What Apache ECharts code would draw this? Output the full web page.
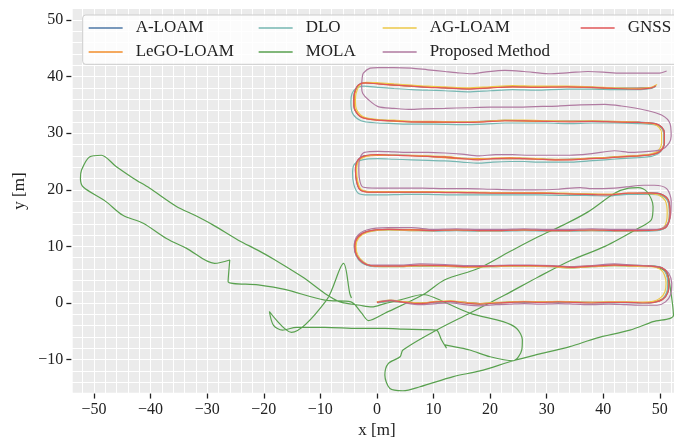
<!DOCTYPE html>
<html><head><meta charset="utf-8">
<script src="https://cdn.jsdelivr.net/npm/echarts@6/dist/echarts.min.js"></script>
<style>html,body{margin:0;padding:0;background:#fff}#c{width:674px;height:441px}</style>
</head><body><div id="c"></div>
<script>
// ---------------- data (x [m], y [m]) ----------------
const seriesNames = ['A-LOAM','LeGO-LOAM','DLO','MOLA','AG-LOAM','Proposed Method','GNSS'];
const xTickValues = [-50,-40,-30,-20,-10,0,10,20,30,40,50];
const yTickValues = [-10,0,10,20,30,40,50];

const gnss = [[0,0.1],[2.3,0.4],[5,0.1],[7.6,-0.1],[10.5,0.2],[13,0.3],[15.5,0.0],[18.2,-0.2],[21,0.0],[23.5,0.1],[26,0.2],[28.8,0.1],[32,0.2],[35,0.1],[38,0.0],[41,0.1],[44,0.1],[47,0.0],[49,0.1],
[50.5,0.6],[51.4,1.8],[51.6,3.5],[51.3,5.2],[50.4,6.2],[48.5,6.5],
[45,6.6],[42,6.7],[38,6.5],[34.4,6.3],[31,6.5],[27,6.6],[23.5,6.6],[20,6.5],[16.4,6.4],[12,6.6],[7.6,6.7],[4,6.5],[1,6.5],[-1.2,6.6],
[-2.6,7.2],[-3.6,8.4],[-3.9,10.0],[-3.4,11.6],[-1.8,12.6],[2,13.0],
[6.1,12.9],[10,12.8],[14,12.9],[18,12.8],[22,12.8],[26,12.9],[30,12.8],[34,12.8],[38,12.9],[42,12.8],[46,12.8],[49.5,12.9],
[51.2,13.5],[51.8,15.8],[51.5,18.2],[50.3,19.2],[48.5,19.4],
[44.4,19.4],[40.9,19.1],[37,19.2],[33,19.3],[29,19.4],[25,19.4],[21,19.4],[17,19.5],[13,19.5],[9,19.6],[5,19.6],[1,19.6],[-1.5,19.6],
[-3.0,20.0],[-3.6,21.5],[-3.8,23.5],[-3.4,25.2],[-2.1,26.0],
[0.2,26.2],[3,26.1],[6.1,26.0],[9,25.9],[12,25.8],[15,25.5],[17.9,25.3],[20.5,25.5],[23.5,25.6],[26,25.5],[28.5,25.4],[31.5,25.3],[34.4,25.3],[37.5,25.5],[40.3,25.6],[43,25.8],[46.2,26.0],[48.5,26.2],
[50.1,26.8],[50.8,28.3],[50.8,30.0],[50.3,31.1],[49.1,31.7],[46.2,31.9],
[42,32.0],[38,32.1],[34,32.0],[30,32.1],[26,32.2],[22.6,32.2],[19,32.0],[15,31.9],[10,32.0],[6.1,32.0],[3,32.2],[0.2,32.3],[-2.7,32.8],
[-3.9,34.1],[-4.1,35.5],[-4.0,37.0],[-3.3,38.5],[-2.1,38.9],
[0.2,38.7],[3,38.5],[6.1,38.3],[9,38.1],[12,38.0],[16,37.8],[20,38.0],[24,38.2],[28,38.1],[33.6,38.2],[38,38.1],[42,37.9],[46.6,37.8],[48.5,38.0],[49.3,38.4]];

const aLoam = [[0,0.15],[2.3,0.4],[7.6,0.0],[13,0.3],[18.2,-0.1],[23.5,0.15],[28.8,0.15],[35,0.15],[41,0.1],[47,0.05],[49,0.15],
[50.5,0.7],[51.4,1.9],[51.6,3.5],[51.3,5.2],[50.4,6.2],[48.5,6.55],
[42,6.7],[34.4,6.35],[27,6.6],[20,6.5],[12,6.6],[4,6.5],[-1.2,6.6],
[-2.6,7.25],[-3.6,8.4],[-3.9,10.0],[-3.4,11.6],[-1.8,12.6],[2,13.0],
[10,12.85],[18,12.85],[26,12.9],[34,12.85],[42,12.85],[49.5,12.95],
[51.2,13.55],[51.8,15.8],[51.5,18.2],[50.3,19.2],[48.5,19.45],
[40.9,19.15],[33,19.35],[25,19.45],[17,19.5],[9,19.6],[1,19.6],[-1.5,19.65],
[-3.0,20.05],[-3.6,21.5],[-3.8,23.5],[-3.4,25.2],[-2.1,26.05],
[3,26.15],[9,25.95],[15,25.55],[20.5,25.5],[26,25.55],[31.5,25.35],[37.5,25.55],[43,25.85],[48.5,26.25],
[50.1,26.85],[50.8,28.3],[50.8,30.0],[50.3,31.1],[49.1,31.75],[46.2,31.95],
[38,32.15],[30,32.15],[22.6,32.25],[15,31.95],[6.1,32.05],[0.2,32.35],[-2.7,32.85],
[-3.9,34.1],[-4.1,35.5],[-4.0,37.0],[-3.3,38.5],[-2.1,38.95],
[3,38.55],[9,38.15],[16,37.85],[24,38.25],[33.6,38.25],[42,37.95],[48.5,38.05],[49.3,38.45]];

const legoLoam = [[0,0.1],[2.3,0.3],[7.6,0.0],[13,0.3],[18.2,-0.1],[23.5,0.1],[28.8,0.2],[35,0.1],[41,0.1],[47,0.1],[49,0.2],
[50.4,0.7],[51.3,1.9],[51.5,3.5],[51.2,5.1],[50.3,6.1],[48.5,6.5],
[42,6.7],[34.4,6.4],[27,6.6],[20,6.5],[12,6.6],[4,6.5],[-1.1,6.6],
[-2.5,7.2],[-3.5,8.4],[-3.8,10.0],[-3.3,11.6],[-1.7,12.6],[2,13.0],
[10,12.9],[18,12.8],[26,12.9],[34,12.8],[42,12.8],[49.4,12.9],
[51.1,13.5],[51.7,15.8],[51.4,18.1],[50.2,19.1],[48.5,19.4],
[40.9,19.2],[33,19.3],[25,19.4],[17,19.5],[9,19.6],[1,19.6],[-1.4,19.6],
[-2.9,20.0],[-3.5,21.5],[-3.7,23.5],[-3.3,25.2],[-2.0,26.0],
[3,26.1],[9,25.9],[15,25.5],[20.5,25.5],[26,25.5],[31.5,25.3],[37.5,25.5],[43,25.8],[48.4,26.2],
[50.0,26.8],[50.7,28.3],[50.7,30.0],[50.2,31.1],[49.0,31.7],[46.2,31.9],
[38,32.1],[30,32.1],[22.6,32.2],[15,31.9],[6.1,32.0],[0.2,32.3],[-2.6,32.8],
[-3.8,34.1],[-4.0,35.5],[-3.9,37.0],[-3.2,38.5],[-2.0,38.9],
[3,38.5],[9,38.2],[16,37.9],[24,38.2],[33.6,38.2],[42,37.9],[48.5,38.0],[49.3,38.4]];

const dlo = [[0.1,0.0],[2.3,0.3],[5,0.1],[7.6,-0.1],[10.5,0.1],[13,0.2],[15.5,0.0],[18.2,-0.2],[21,0.0],[23.5,0.1],[26,0.1],[28.8,0.1],[32,0.1],[35,0.1],[38,0.0],[41,0.0],[44,0.1],[47,0.0],[49,0.1],
[50.4,0.6],[51.2,1.8],[51.4,3.5],[51.1,5.2],[50.3,6.1],[48.5,6.5],
[45,6.5],[42,6.6],[38,6.4],[34.4,6.2],[31,6.4],[27,6.5],[23.5,6.5],[20,6.4],[16.4,6.3],[12,6.5],[7.6,6.6],[4,6.4],[1,6.4],[-1.2,6.5],
[-2.7,7.1],[-3.7,8.4],[-4.0,10.0],[-3.5,11.6],[-1.9,12.5],[2,12.9],
[6.1,12.8],[10,12.7],[14,12.8],[18,12.7],[22,12.7],[26,12.8],[30,12.7],[34,12.7],[38,12.8],[42,12.7],[46,12.7],[49.5,12.8],
[51.1,13.4],[51.7,15.8],[51.4,18.0],[50.2,19.0],[48.5,19.2],
[44.4,19.2],[40.9,18.9],[37,19.0],[33,19.0],[29,19.1],[25,19.1],[21,19.1],[17,19.1],[13,19.1],[9,19.2],[5,19.2],[1,19.1],[-1.5,19.1],
[-3.3,19.4],[-4.1,21.0],[-4.3,23.0],[-4.0,24.5],[-2.6,25.3],
[0.2,25.5],[3,25.4],[6.1,25.3],[9,25.2],[12,25.1],[15,24.9],[17.9,24.7],[20.5,24.9],[23.5,25.0],[26,25.0],[28.5,24.9],[31.5,24.9],[34.4,24.9],[37.5,25.1],[40.3,25.3],[43,25.5],[46.2,25.7],[48.5,25.9],
[50.0,26.6],[50.7,28.2],[50.7,30.0],[50.2,31.0],[49.0,31.5],[46.2,31.7],
[42,31.8],[38,31.8],[34,31.7],[30,31.8],[26,31.8],[22.6,31.8],[19,31.6],[15,31.5],[10,31.6],[6.1,31.6],[3,31.7],[0.2,31.8],[-2.8,32.2],
[-4.3,33.5],[-4.6,35.5],[-4.4,37.0],[-3.6,38.0],[-2.3,38.3],
[0.2,38.1],[3,37.9],[6.1,37.7],[9,37.6],[12,37.5],[16,37.3],[20,37.5],[24,37.7],[28,37.6],[33.6,37.8],[38,37.8],[42,37.7],[46.6,37.7],[48.5,37.9],[49.3,38.3]];

const mola = [[-4.5,0.9],[-4.8,1.7],[-5.9,7.0],[-8.9,0.5],[-15.1,-5.2],[-19.0,-1.5],[-18.3,-3.9],[-16.7,-4.8],[-14.2,-4.3],[-9.2,-4.3],[-3.3,-4.5],[1.4,-4.5],[4.6,-4.6],[8,-4.7],[10.5,-4.8],
[11.4,-6.5],[12.3,-8.0],[12.0,-7.4],[14,-7.8],[16.4,-8.3],[20.0,-9.5],[24.1,-10.2],[25.6,-8.3],[25.7,-6.5],[24.7,-4.5],[22.3,-3.3],[16.4,-1.8],[10.5,0.8],[8.2,1.5],[4,0.5],[1.4,-0.1],[-0.9,-0.7],[-3,-0.4],[-6.5,0.2],
[-9.2,1.7],[-13,4.5],[-18,7.6],[-21,9.3],[-24.5,11.1],[-29,13.8],[-32,15.4],[-35.5,17.1],[-40.2,20.3],[-43,22],[-46.1,24.1],[-48.7,26.1],[-50.8,25.8],[-52.2,23.5],[-52.4,22.0],[-51.9,20.5],
[-48,18],[-44.9,15.5],[-41.3,14.1],[-37.2,11.4],[-33.7,9.7],[-28.7,7.0],[-26.0,7.6],[-26.3,3.8],[-21,3.2],[-16.3,2.4],[-9.2,0.5],[-4.6,0.2],[-2.7,-1.8],[-1.5,-3.1],[1.4,-1.8],[8.2,1.5],
[12,4.1],[17.9,6.1],[23.5,9.1],[28.5,11.7],[33,13.8],[37.3,16.1],[42,19.4],[44.5,20.3],[46.2,20.4],[47.7,19.7],[48.8,17.0],[48.5,14.7],[46.2,13.2],[40.3,10.0],[34.4,7.6],[28.5,4.6],[22.6,1.4],[16.4,-1.8],[10.5,-4.8],[4.6,-8.3],
[4.1,-9.5],[2.0,-10.7],[1.4,-12.7],[2.3,-15.1],[4.6,-15.5],[7.6,-14.8],[13.5,-13.0],[18.2,-12.0],[24.1,-10.2],[28.8,-9.0],[34.1,-7.7],[38.8,-6.2],[44.7,-4.8],[48.8,-3.3],[52.4,-2.2],[51.8,2.9],[51.2,5.5],[49.5,6.3]];

const agLoam = [[0,0.2],[2.3,0.5],[5,0.2],[7.6,0.0],[10.5,0.3],[13,0.4],[15.5,0.1],[18.2,-0.1],[21,0.1],[23.5,0.2],[26,0.3],[28.8,0.2],[32,0.3],[35,0.2],[38,0.1],[41,0.2],[44,0.2],[47,0.1],[48.8,0.3],
[50.1,0.9],[50.9,2.0],[51.1,3.5],[50.8,5.0],[50.0,6.0],[48.5,6.4],
[45,6.5],[42,6.6],[38,6.4],[34.4,6.2],[31,6.4],[27,6.5],[23.5,6.5],[20,6.4],[16.4,6.3],[12,6.5],[7.6,6.6],[4,6.4],[1,6.4],[-1.0,6.6],
[-2.4,7.3],[-3.4,8.5],[-3.7,10.0],[-3.2,11.5],[-1.6,12.5],[2,12.9],
[6.1,12.8],[10,12.8],[14,12.9],[18,12.8],[22,12.8],[26,12.9],[30,12.8],[34,12.8],[38,12.9],[42,12.8],[46,12.8],[49.2,12.9],
[50.8,13.5],[51.3,15.8],[51.0,18.0],[49.9,19.0],[48.3,19.3],
[44.4,19.4],[40.9,19.2],[37,19.3],[33,19.4],[29,19.5],[25,19.5],[21,19.5],[17,19.6],[13,19.6],[9,19.7],[5,19.7],[1,19.7],[-1.3,19.7],
[-2.8,20.1],[-3.4,21.5],[-3.6,23.5],[-3.2,25.1],[-1.9,25.9],
[0.2,26.2],[3,26.1],[6.1,26.1],[9,26.0],[12,25.9],[15,25.6],[17.9,25.4],[20.5,25.6],[23.5,25.7],[26,25.6],[28.5,25.5],[31.5,25.4],[34.4,25.4],[37.5,25.6],[40.3,25.7],[43,25.9],[46.2,26.1],[48.3,26.3],
[49.7,26.9],[50.3,28.3],[50.3,30.0],[49.9,31.0],[48.9,31.6],[46.2,31.9],
[42,32.1],[38,32.2],[34,32.1],[30,32.2],[26,32.3],[22.6,32.3],[19,32.1],[15,32.0],[10,32.1],[6.1,32.1],[3,32.3],[0.2,32.4],[-2.4,32.9],
[-3.6,34.2],[-3.8,35.5],[-3.7,37.0],[-3.0,38.5],[-1.9,39.0],
[0.2,38.9],[3,38.7],[6.1,38.5],[9,38.3],[12,38.2],[16,38.0],[20,38.2],[24,38.4],[28,38.3],[33.6,38.3],[38,38.2],[42,38.0],[46.6,37.9],[48.5,38.1],[49.5,38.6]];

const proposed = [[0.3,0.2],[2.5,0.5],[5,0.0],[7.6,-0.3],[10.5,-0.1],[13,0.0],[15.5,-0.3],[18.2,-0.5],[21,-0.3],[23.5,-0.2],[26,-0.1],[28.8,-0.2],[32,-0.1],[35,-0.2],[38,-0.3],[41,-0.2],[44,-0.3],[47,-0.4],[49.5,-0.4],
[51,0.2],[51.9,1.5],[52.1,3.5],[51.6,5.2],[50.6,6.1],[48.5,6.5],
[45,6.7],[42,6.9],[38,6.6],[34.4,6.4],[31,6.6],[27,6.7],[23.5,6.7],[20,6.6],[16.4,6.6],[12,6.8],[7.6,6.9],[4,6.7],[1,6.7],[-1.2,6.7],
[-2.7,7.4],[-3.7,8.6],[-4.0,10.0],[-3.5,11.8],[-1.8,12.9],[2,13.3],
[6.1,13.3],[10,13.0],[14,13.1],[18,13.0],[22,13.0],[26,13.1],[30,13.0],[34,13.0],[38,13.1],[42,13.0],[46,13.0],[49.5,13.0],
[51.2,13.8],[51.9,15.5],[52.0,18.0],[51.2,20.2],[49,20.8],[47.2,20.8],
[44,20.5],[42,20.3],[38,20.2],[35.9,20.4],[32,20.1],[28,20.0],[24,20.0],[20,20.1],[16,20.2],[12,20.2],[8,20.3],[4,20.3],[0,20.3],[-2.5,20.5],
[-3.1,22.0],[-3.2,24.0],[-3.0,25.6],[-2.2,26.6],
[0.2,26.8],[3,26.7],[6.1,26.6],[9,26.6],[12,26.5],[15,26.3],[18,26.0],[21,26.2],[24,26.2],[27,26.1],[30,26.1],[34,26.1],[38,26.4],[42,26.9],[45,26.6],[48,26.8],[50.3,27.1],
[51.6,28.2],[52.0,29.5],[51.8,31.7],[50.3,33.2],[47.3,34.1],[43.2,34.8],[40.3,35.1],
[36,35.0],[32,34.8],[28,34.7],[24,34.6],[20,34.6],[16,34.5],[12,34.4],[8,34.3],[6.1,34.2],[3,34.4],[0.2,34.7],[-1.5,35.9],
[-2.5,37.0],[-2.7,38.2],[-2.6,39.8],[-2.4,40.6],[-1.2,41.5],[0.2,41.6],
[3,41.6],[6.1,41.5],[9,41.2],[12,40.9],[14,40.7],[16.7,40.5],[19,40.8],[22.6,41.1],[26,40.9],[30.3,40.5],[34,40.7],[37.3,40.9],[40,40.8],[43,40.6],[46.2,40.6],[49.7,40.6],[51.2,41.0]];

const seriesData = [aLoam, legoLoam, dlo, mola, agLoam, proposed, gnss];
const colors = ['#4e79a7','#f28e2b','#76b7b2','#59a14f','#edc948','#b07aa1','#e15759'];

// ---------------- chart ----------------
const FONT = 'Liberation Serif';
const TXT = '#222';
const chart = echarts.init(document.getElementById('c'), null, {renderer:'canvas'});
const fmt = v => (v % 10 === 0) ? String(v).replace('-', '\u2212') : '';

const legendCommon = {
  orient:'vertical', padding:0, itemWidth:34, itemHeight:14, itemGap:8,
  textStyle:{fontFamily:FONT, fontSize:17, color:TXT, padding:[0,0,0,8]},
  itemStyle:{opacity:0}, lineStyle:{width:1.3},
  selectedMode:false, z:6
};
// legend layout: [name, left, top]
const legendPlaces = [['A-LOAM',88,19.5],['LeGO-LOAM',88,43.5],['DLO',258,19.5],['MOLA',258,43.5],
  ['AG-LOAM',382,19.5],['Proposed Method',382,43.5],['GNSS',580,19.5]];

const X_MIN = -54, X_MAX = 52.5, Y_MIN = -16, Y_MAX = 52.1;
const gridAxisX = {type:'value', min:X_MIN, max:X_MAX, interval:2, axisLine:{show:false}, axisTick:{show:false}, axisLabel:{show:false},
  splitLine:{show:true, lineStyle:{color:'#ffffff', width:1}}};
const gridAxisY = {type:'value', min:Y_MIN, max:Y_MAX, interval:2, axisLine:{show:false}, axisTick:{show:false}, axisLabel:{show:false},
  splitLine:{show:true, lineStyle:{color:'#ffffff', width:1}}};

chart.setOption({
  animation:false,
  color: colors,
  grid:{left:71.36, right:0, top:8.11, bottom:47.44, containLabel:false},
  xAxis:[{type:'value', min:X_MIN, max:X_MAX, position:'bottom',
    axisLine:{show:false, onZero:false},
    axisTick:{show:true, length:5, customValues:xTickValues, lineStyle:{color:TXT, width:1.3}},
    axisLabel:{customValues:xTickValues, formatter:fmt, margin:8, fontFamily:FONT, fontSize:16, color:TXT},
    splitLine:{show:false}},
    Object.assign({position:'top'}, gridAxisX)],
  yAxis:[{type:'value', min:Y_MIN, max:Y_MAX, position:'left',
    axisLine:{show:false, onZero:false},
    axisTick:{show:true, length:5, customValues:yTickValues, lineStyle:{color:TXT, width:1.3}},
    axisLabel:{customValues:yTickValues, formatter:fmt, margin:8, fontFamily:FONT, fontSize:16, color:TXT},
    splitLine:{show:false}},
    Object.assign({position:'right'}, gridAxisY)],
  legend: legendPlaces.map(p => Object.assign({data:[p[0]], left:p[1], top:p[2]}, legendCommon)),
  graphic:{elements:[
    {type:'rect', z:-100, silent:true, shape:{x:72.7, y:8.3, width:602, height:384.4}, style:{fill:'#ebebeb'}},
    {type:'rect', z:5, silent:true, shape:{x:82.7, y:15, width:600, height:49.3, r:3}, style:{fill:'rgba(255,255,255,0.82)', stroke:'#cccccc', lineWidth:1}},
    {type:'text', z:5, silent:true, x:377, y:431, style:{text:'x [m]', font:'17px "Liberation Serif"', fill:TXT, textAlign:'center', textVerticalAlign:'middle'}},
    {type:'text', z:5, silent:true, x:20, y:191, rotation:Math.PI/2, style:{text:'y [m]', font:'17px "Liberation Serif"', fill:TXT, textAlign:'center', textVerticalAlign:'middle'}}
  ]},
  series: seriesNames.map((n,i) => ({
    name:n, type:'line', data:seriesData[i], showSymbol:false, symbol:'none',
    xAxisIndex:0, yAxisIndex:0,
    smooth:0.3, clip:true, z:2+i*0.01,
    lineStyle:{width:1.2, color:colors[i]}, itemStyle:{color:colors[i]},
    emphasis:{disabled:true}
  }))
});
</script></body></html>
